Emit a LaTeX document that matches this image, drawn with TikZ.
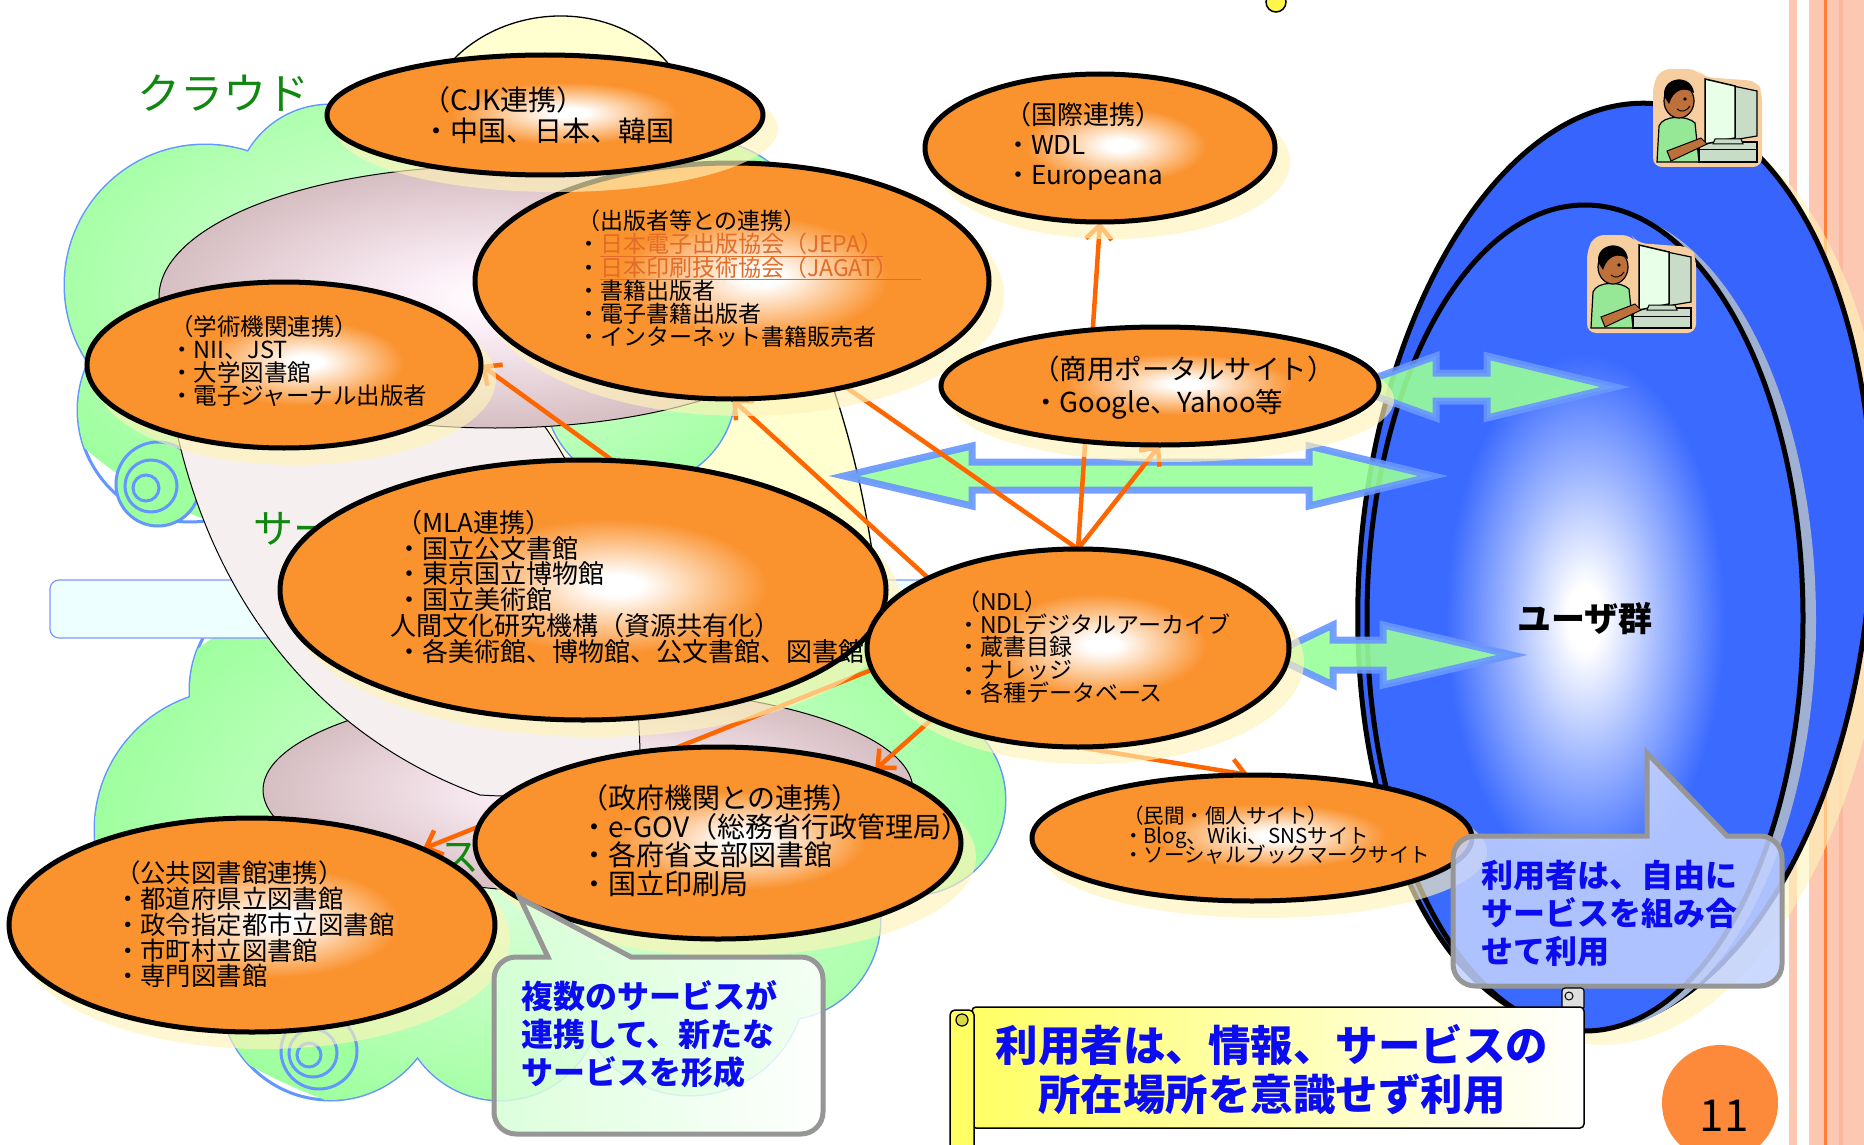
\documentclass[tikz,border=0pt]{standalone}
\usepackage{fontspec}
\setmainfont{Noto Sans CJK JP}
\usetikzlibrary{shapes.geometric,arrows.meta,calc}

\definecolor{orbO}{RGB}{250,146,46}
\definecolor{lineO}{RGB}{255,102,0}
\definecolor{linkO}{RGB}{226,108,40}
\definecolor{arrG}{RGB}{153,255,153}
\definecolor{arrB}{RGB}{104,150,255}
\definecolor{userBlue}{RGB}{58,106,255}
\definecolor{userDeep}{RGB}{54,100,252}
\definecolor{cloudG}{RGB}{158,255,158}
\definecolor{cloudL}{RGB}{230,255,230}
\definecolor{cloudEdge}{RGB}{100,150,255}
\definecolor{stripe}{RGB}{252,200,178}
\definecolor{stripeD}{RGB}{250,184,156}
\definecolor{stripeO}{RGB}{255,128,56}
\definecolor{txtBlue}{RGB}{12,12,240}
\definecolor{shadowY}{RGB}{255,244,185}
\definecolor{funY}{RGB}{255,255,208}
\definecolor{tornEdge}{RGB}{214,190,194}
\definecolor{tornPink}{RGB}{240,165,210}
\definecolor{bannerY}{RGB}{255,255,100}
\definecolor{pageO}{RGB}{253,138,58}
\definecolor{halo}{RGB}{246,206,160}
\definecolor{skin}{RGB}{190,112,58}
\definecolor{shirt}{RGB}{150,232,150}
\definecolor{pcgray}{RGB}{200,220,200}
\definecolor{pcfront}{RGB}{232,255,232}
\definecolor{rimGray}{RGB}{160,176,210}
\definecolor{calloutEdge}{RGB}{150,150,150}
\definecolor{rectCyan}{RGB}{238,255,255}
\definecolor{rectEdge}{RGB}{130,150,255}
\definecolor{cloudTxt}{RGB}{16,136,16}
\definecolor{noteGreen}{RGB}{214,255,214}
\definecolor{noteBlue}{RGB}{195,210,255}

% orange bubbles: small white core, slightly right of centre
\pgfdeclareradialshading{orbshade}{\pgfpoint{3bp}{1bp}}{color(0bp)=(white); color(2bp)=(white); color(13bp)=(orbO); color(50bp)=(orbO)}
% user group: white core fading into blue
\pgfdeclareradialshading{usershade}{\pgfpoint{0bp}{0bp}}{color(0bp)=(white); color(2bp)=(white); color(16bp)=(userBlue); color(50bp)=(userBlue)}
% funnel discs inside the clouds
\pgfdeclareradialshading{tornshade}{\pgfpoint{0bp}{0bp}}{color(0bp)=(white); color(6bp)=(white!82!tornPink); color(25bp)=(tornEdge); color(50bp)=(tornEdge)}

\pgfdeclarelayer{back}
\pgfdeclarelayer{links}
\pgfsetlayers{back,links,main}

\newcommand\setfs[2]{\fontsize{#1}{#2}\selectfont\lineskiplimit=-60pt\relax}

% bubble with its pale shadow: name, x, y, rx, ry
\newcommand\orbnode[5]{%
  \fill[shadowY, opacity=.65] (#2+12,#3+14) ellipse [x radius=#4+3, y radius=#5+3];
  \node[orb, minimum width=2*#4, minimum height=2*#5] (#1) at (#2,#3) {};}

% wide double arrow: y, left tip, left head back, right head back, right tip, head half, shaft half
\newcommand\dblarrow[7]{%
  \draw[bigarrow] (#2,#1) -- (#3,#1-#6) -- (#3,#1-#7) -- (#4,#1-#7) -- (#4,#1-#6) -- (#5,#1)
    -- (#4,#1+#6) -- (#4,#1+#7) -- (#3,#1+#7) -- (#3,#1+#6) -- cycle;}

\newcommand\upperlist{205/285/140,190/410/112,330/200/95,450/230/140,590/200/120,700/255/115,640/390/95,430/390/120,300/400/110}
\newcommand\lowerlist{300/690/110,235/830/140,330/990/110,500/1000/100,690/980/115,780/920/100,910/800/95,880/700/90,600/800/200,420/700/120,760/700/110}

\tikzset{
  orb/.style={ellipse, draw=black, line width=5pt, shading=orbshade},
  orbtxt/.style={anchor=north west, align=left, text=black},
  bluetxt/.style={anchor=north west, align=left, text=txtBlue},
  conn/.style={draw=lineO, line width=4.5pt, -{Straight Barb[length=14pt,width=26pt]}},
  connplain/.style={draw=lineO, line width=4.5pt},
  bigarrow/.style={fill=arrG, draw=arrB, line width=7pt, line join=miter, opacity=.9},
  callout/.style={draw=calloutEdge, line width=5pt},
  cloudline/.style={draw=cloudEdge, line width=3pt},
  userfig/.pic={
    \fill[halo, rounded corners=9pt] (0,12) -- (8,-3) -- (44,-3) -- (50,5) -- (104,9) -- (109,20) -- (109,95) -- (0,95) -- cycle;
    \draw[fill=pcgray, line width=1.2pt] (46,70) rectangle (104,90);
    \draw[line width=1pt] (46,78) -- (104,78);
    \draw[fill=pcgray, line width=1.2pt] (80,14) -- (104,19) -- (104,64) -- (80,68) -- cycle;
    \draw[fill=pcfront, line width=1.5pt] (52,7) -- (82,14) -- (82,66) -- (52,72) -- cycle;
    \draw[fill=pcgray, line width=1pt] (60,72) -- (90,72) -- (88,67) -- (62,67) -- cycle;
    \draw[fill=shirt, line width=1.2pt] (4,90) -- (6,54) .. controls (10,43) and (34,43) .. (42,51) -- (46,90) -- cycle;
    \draw[fill=skin, line width=1pt] (14,79) -- (48,66) -- (54,72) -- (18,89) -- cycle;
    \draw[fill=skin, line width=1.2pt] (26,29) ellipse [x radius=15, y radius=17];
    \fill[black] (11,24) .. controls (9,4) and (39,1) .. (41,21) .. controls (31,14) and (20,18) .. (16,32) -- cycle;
    \fill (32,27) circle (1.8);
    \draw[line width=1pt] (24,37) .. controls (28,41) and (34,39) .. (37,34);
  }
}

\begin{document}
\begin{tikzpicture}[x=1pt, y=-1pt, every node/.style={inner sep=0pt, outer sep=0pt}]
\useasboundingbox (0,0) rectangle (1864,1145);

\begin{pgfonlayer}{back}
  \fill[white] (0,0) rectangle (1864,1145);
  % page border stripes
  \fill[stripe] (1789,0) rectangle (1797,1145);
  \fill[stripe] (1809,0) rectangle (1864,1145);
  \fill[stripeD] (1839,0) rectangle (1843,1145);
  \fill[stripeO] (1824,0) rectangle (1826.5,1145);

  % pale funnel behind the clouds
  \draw[fill=funY, line width=1.3pt] (420,120) .. controls (450,0) and (620,-20) .. (680,80)
     .. controls (770,230) and (860,380) .. (880,620) .. controls (850,700) and (600,650) .. (520,500) -- cycle;

  % upper cloud
  \draw[cloudline] foreach \cx/\cy/\cr in \upperlist {(\cx,\cy) circle (\cr)};
  \begin{scope}
    \clip foreach \cx/\cy/\cr in \upperlist {(\cx,\cy) circle (\cr)};
    \shade[inner color=cloudL, outer color=cloudG] (430,300) ellipse [x radius=420, y radius=260];
  \end{scope}
  \draw[cloudline, fill=cloudG] (158,484) circle (42);
  \draw[cloudline] (151,486) circle (26) (146,488) circle (13);

  % lower cloud
  \draw[cloudline] foreach \cx/\cy/\cr in \lowerlist {(\cx,\cy) circle (\cr)};
  \begin{scope}
    \clip foreach \cx/\cy/\cr in \lowerlist {(\cx,\cy) circle (\cr)};
    \shade[inner color=cloudL, outer color=cloudG] (560,840) ellipse [x radius=470, y radius=300];
  \end{scope}
  \draw[cloudline, fill=cloudG] (319,1051) circle (38);
  \draw[cloudline] (313,1053) circle (24) (309,1055) circle (12);

  % pale banner bar
  \draw[draw=rectEdge, fill=rectCyan, line width=1.2pt, rounded corners=9pt] (50,580) rectangle (940,638);

  % funnel discs
  \shadedraw[shading=tornshade, line width=1pt] (588,790) ellipse [x radius=325, y radius=103];
  \shadedraw[left color=white!75!tornEdge, middle color=tornPink, right color=white!75!tornEdge, line width=1pt]
     (160,300) .. controls (170,560) and (300,730) .. (480,795) .. controls (560,800) and (640,790) .. (640,760)
     .. controls (640,640) and (600,500) .. (540,420) -- cycle;
  \shadedraw[shading=tornshade, line width=1pt] (495,297) ellipse [x radius=336, y radius=131];

  % cloud labels
  \node[text=cloudTxt, font=\setfs{43}{43}] (cloudlbl) at (223,93) {クラウド};
  \node[text=cloudTxt, font=\setfs{40}{40}, anchor=west] (servlbl) at (253,529) {サー};
  \node[text=cloudTxt, font=\setfs{40}{40}] (servlbl2) at (459,858) {ス};

  % user group
  \fill[shadowY, opacity=.6, rotate around={-5:(1630,580)}] (1630,580) ellipse [x radius=258, y radius=466];
  \draw[line width=5pt, fill=userDeep, rotate around={-5:(1615,566)}] (1615,566) ellipse [x radius=255, y radius=464];
  \fill[rimGray] (1598,620) ellipse [x radius=218, y radius=410];
  \shadedraw[shading=usershade, line width=5pt] (1585,618) ellipse [x radius=218, y radius=413];
  \pic at (1653,72) {userfig};
  \pic at (1587,238) {userfig};
  \node[font=\setfs{34}{34}\bfseries] (users) at (1585,619) {ユーザ群};

  % wide double arrows
  \dblarrow{476}{844}{972}{1309}{1433}{30}{14}
  \dblarrow{387}{1350}{1436}{1487}{1615}{31}{14}
  \dblarrow{655}{1270}{1333}{1383}{1512}{30}{15}
\end{pgfonlayer}

% service bubbles
\orbnode{pubs}{732}{281}{257}{118}
\node[orbtxt, font=\setfs{23}{23.2}] (pubs-t) at (577,210)
  {（出版者等との連携）\\・\textcolor{linkO}{\underline{日本電子出版協会（JEPA）}}\\・\textcolor{linkO}{\underline{日本印刷技術協会（JAGAT）\hspace{1em}}}\\・書籍出版者\\・電子書籍出版者\\・インターネット書籍販売者};

\orbnode{cjk}{545}{115}{218}{60}
\node[orbtxt, font=\setfs{28}{31}] (cjk-t) at (422,87) {（CJK連携）\\・中国、日本、韓国};

\orbnode{acad}{284}{365}{197}{83}
\node[orbtxt, font=\setfs{23.5}{23}] (acad-t) at (170,315) {（学術機関連携）\\・NII、JST\\・大学図書館\\・電子ジャーナル出版者};

\orbnode{intl}{1100}{148}{175}{74}
\node[orbtxt, font=\setfs{26}{30}] (intl-t) at (1005,102) {（国際連携）\\・WDL\\・Europeana};

\orbnode{com}{1160}{386}{219}{59}
\node[orbtxt, font=\setfs{27.5}{33}] (com-t) at (1032,356) {（商用ポータルサイト）\\・Google、Yahoo等};

\orbnode{mla}{583}{590}{303}{130}
\node[orbtxt, font=\setfs{26}{25.8}] (mla-t) at (396,510)
  {（MLA連携）\\・国立公文書館\\・東京国立博物館\\・国立美術館\\\hspace*{-6pt}人間文化研究機構（資源共有化）\\・各美術館、博物館、公文書館、図書館};

\orbnode{ndl}{1078}{648}{211}{99}
\node[orbtxt, font=\setfs{23}{22.6}] (ndl-t) at (957,591) {（NDL）\\・NDLデジタルアーカイブ\\・蔵書目録\\・ナレッジ\\・各種データベース};

\orbnode{publ}{252}{925}{243}{107}
\node[orbtxt, font=\setfs{25.4}{25.8}] (publ-t) at (115,861) {（公共図書館連携）\\・都道府県立図書館\\・政令指定都市立図書館\\・市町村立図書館\\・専門図書館};

\orbnode{gov}{718}{843}{243}{96}
\node[orbtxt, font=\setfs{28}{28.5}] (gov-t) at (580,785) {（政府機関との連携）\\・e-GOV（総務省行政管理局）\\・各府省支部図書館\\・国立印刷局};

\orbnode{priv}{1252}{838}{220}{63}
\node[orbtxt, font=\setfs{20.5}{19.6}] (priv-t) at (1123,806) {（民間・個人サイト）\\・Blog、Wiki、SNSサイト\\・ソーシャルブックマークサイト};

% links between services
\begin{pgfonlayer}{links}
  \draw[conn] (mla.77) -- (acad.east);
  \draw[conn] (ndl.155) -- (pubs.south);
  \draw[connplain] (ndl.north) -- (pubs.-43);
  \draw[conn] (ndl.north) -- (intl.south);
  \draw[conn] (ndl.north) -- (com.south);
  \draw[conn] (ndl.206) -- (gov.25);
  \draw[conn] (ndl.south) -- (priv.93);
  \draw[conn] (ndl.186) -- (publ.24);
\end{pgfonlayer}

% callouts
\shadedraw[callout, left color=noteGreen, right color=white, fill opacity=.85, rounded corners=22pt]
  (660,957) -- (823,957) -- (823,1134) -- (494,1134) -- (494,957) [sharp corners] -- (548,957) -- (520,898) -- (631,957) -- cycle;
\node[bluetxt, font=\setfs{32}{38}\bfseries] (note1) at (521,980) {複数のサービスが\\連携して、新たな\\サービスを形成};

\draw[callout, fill=noteBlue, fill opacity=.85, rounded corners=22pt]
  (1750,836) -- (1782,836) -- (1782,986) -- (1453,986) -- (1453,836) [sharp corners] -- (1647,836) -- (1647,753) -- (1727,836) -- cycle;
\node[bluetxt, font=\setfs{32}{38}\bfseries] (note2) at (1481,860) {利用者は、自由に\\サービスを組み合\\せて利用};

% scroll banner
\draw[line width=1.2pt, fill=gray!25, rounded corners=3pt] (1562,988) rectangle (1584,1010);
\draw[line width=1pt] (1569,996) circle (4);
\shadedraw[line width=1.5pt, left color=bannerY, middle color=bannerY!30!white, right color=white, rounded corners=4pt] (972,1007) rectangle (1584,1128);
\draw[line width=1.5pt, fill=bannerY, rounded corners=5pt] (950,1010) rectangle (974,1170);
\draw[line width=1.2pt, fill=bannerY!70!olive] (962,1020) circle (6);
\node[align=center, text=txtBlue, font=\setfs{42.5}{49}\bfseries] (banner) at (1272,1070) {利用者は、情報、サービスの\\所在場所を意識せず利用};

% page number and top marker
\fill[pageO] (1720,1103) circle (58);
\node[font=\setfs{44}{44}] (pagenum) at (1724,1116) {11};
\draw[line width=1.5pt, fill=yellow!70!white] (1276,2) circle (10);
\end{tikzpicture}
\end{document}
